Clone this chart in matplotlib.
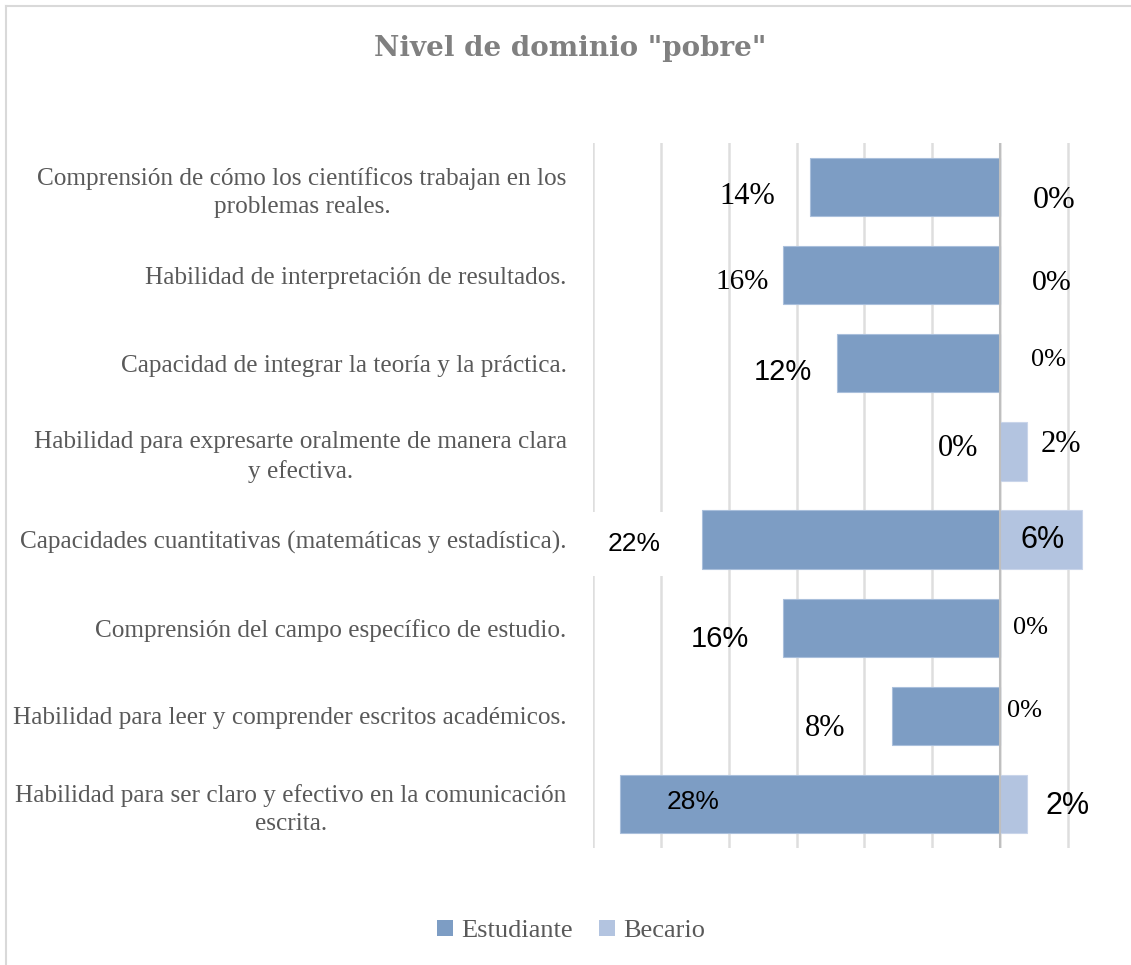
import matplotlib
matplotlib.use('Agg')
import matplotlib.pyplot as plt
from matplotlib.lines import Line2D
from matplotlib.patches import Patch

categorias = [
    "Comprensión de cómo los científicos trabajan en los\nproblemas reales.",
    "Habilidad de interpretación de resultados.",
    "Capacidad de integrar la teoría y la práctica.",
    "Habilidad para expresarte oralmente de manera clara\ny efectiva.",
    "Capacidades cuantitativas (matemáticas y estadística).",
    "Comprensión del campo específico de estudio.",
    "Habilidad para leer y comprender escritos académicos.",
    "Habilidad para ser claro y efectivo en la comunicación\nescrita.",
]
estudiante = [14, 16, 12, 0, 22, 16, 8, 28]
becario = [0, 0, 0, 2, 6, 0, 0, 2]

C_EST = "#7d9dc4"
C_BEC = "#b3c4e0"
GRIS = "#595959"
SERIF = ["Liberation Serif", "DejaVu Serif"]
SANS = ["Liberation Sans", "DejaVu Sans"]

# label nudges (pixels) and sizes, the original labels were dragged by hand
est_dx = [-35, -14, -25, -22, -41, -34, -46, 0]
est_dy = [10, 7, 9, -2, 5, 12, 14, -1]
est_fs = [22, 21, 21, 22, 19, 21, 22, 19]
est_ff = [SERIF, SERIF, SANS, SERIF, SANS, SANS, SERIF, SANS]
bec_x = [1054, 1052, 1049, 1061, 1043, 1030, 1025, 1068]
bec_dy = [13, 8, -3, -6, 1, 1, -4, 3]
bec_fs = [23, 21.5, 19, 22, 22, 19, 19, 22]
bec_ff = [SERIF, SERIF, SERIF, SERIF, SANS, SERIF, SERIF, SANS]

fig = plt.figure(figsize=(11.31, 9.65), dpi=100, facecolor="white")
W, H = 1131, 965
ax = fig.add_axes([593 / W, 1 - 848 / H, (W - 593) / W, (848 - 143) / H])
x0 = -30
x1 = x0 + (W - 593) / 13.57
ax.set_xlim(x0, x1)
ax.set_ylim(7.5, -0.5)

y = list(range(len(categorias)))
ax.barh(y, [-v for v in estudiante], height=0.66, color=C_EST,
        edgecolor="#a9bfdb", linewidth=0.8, zorder=3)
ax.barh(y, becario, height=0.66, color=C_BEC,
        edgecolor="#c9d5ea", linewidth=0.8, zorder=3)

for g in range(-30, 10, 5):
    ax.axvline(g, color="#dedede", linewidth=1.8, zorder=1)
ax.axvline(0, color="#bfbfbf", linewidth=1.5, zorder=4)

for s in ax.spines.values():
    s.set_visible(False)
ax.set_xticks([])
ax.set_yticks(y)
ax.set_yticklabels(categorias, fontsize=18.2, color=GRIS, family=SERIF,
                   multialignment="center")
for lab in ax.get_yticklabels():
    lab.set_linespacing(1.35)
ax.tick_params(axis="y", length=0, pad=19)

px = 13.57
for i, v in enumerate(estudiante):
    xpix = 1000 - v * px + est_dx[i]
    ha = "right"
    if v == 28:
        xpix = 693
        ha = "center"
    ypix = 187 + i * 88 + est_dy[i]
    t = fig.text(xpix / W, 1 - ypix / H, f"{v}%", fontsize=est_fs[i],
                 ha=ha, va="center", color="black", family=est_ff[i])
    if v == 22:
        t.set_bbox(dict(facecolor="white", edgecolor="none", pad=14))

for i, v in enumerate(becario):
    ypix = 187 + i * 88 + bec_dy[i]
    fig.text(bec_x[i] / W, 1 - ypix / H, f"{v}%", fontsize=bec_fs[i],
             ha="center", va="center", color="black", family=bec_ff[i])

fig.text(570 / W, 1 - 48 / H, 'Nivel de dominio "pobre"', fontsize=20,
         fontweight="bold", color="#808080", family=["DejaVu Serif"],
         ha="center", va="center")

handles = [Patch(facecolor=C_EST, label="Estudiante"),
           Patch(facecolor=C_BEC, label="Becario")]
fig.legend(handles=handles, loc="center", bbox_to_anchor=(571 / W, 1 - 931 / H),
           ncol=2, frameon=False, handlelength=0.6, handleheight=0.6,
           handletextpad=0.3, columnspacing=1.0,
           prop={"family": SERIF, "size": 19}, labelcolor=GRIS)

fig.add_artist(Line2D([6 / W, 6 / W], [0, 1 - 6 / H], transform=fig.transFigure,
                      color="#d9d9d9", linewidth=1.5))
fig.add_artist(Line2D([6 / W, 1], [1 - 6 / H, 1 - 6 / H], transform=fig.transFigure,
                      color="#d9d9d9", linewidth=1.5))

fig.savefig("out.png", dpi=100, facecolor="white")
